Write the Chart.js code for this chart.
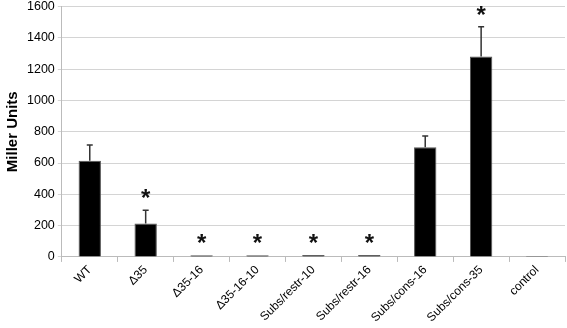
<!DOCTYPE html>
<html>
<head>
<meta charset="utf-8">
<script src="https://cdn.jsdelivr.net/npm/chart.js@4/dist/chart.umd.min.js"></script>
<style>
  html, body { margin: 0; padding: 0; background: #fff; overflow: hidden; }
  #wrap { width: 567px; height: 332px; margin-top: -4px; }
</style>
</head>
<body>
<div id="wrap"><canvas id="chart"></canvas></div>
<script>
const categories = ['WT', 'Δ35', 'Δ35-16', 'Δ35-16-10', 'Subs/restr-10', 'Subs/restr-16', 'Subs/cons-16', 'Subs/cons-35', 'control'];
const millerUnits = [615, 213, 10, 10, 12, 12, 700, 1280, 6];
const errorTop = [715, 299, 10, 10, 12, 12, 772, 1470, 6];
const significant = [false, true, true, true, true, true, false, true, false];
const yTicks = [0, 200, 400, 600, 800, 1000, 1200, 1400, 1600];

// error bars + asterisks, drawn from the data through the scales
const errorBarPlugin = {
    id: 'errorBars',
    afterDatasetsDraw(chart) {
        const ctx = chart.ctx;
        const x = chart.scales.x;
        const y = chart.scales.y;
        ctx.save();
        categories.forEach((cat, i) => {
            const cx = x.getPixelForValue(i);
            const yTop = y.getPixelForValue(millerUnits[i]);
            const yErr = y.getPixelForValue(errorTop[i]);
            if (errorTop[i] > millerUnits[i]) {
                ctx.strokeStyle = '#333';
                ctx.lineWidth = 1.5;
                ctx.beginPath();
                ctx.moveTo(cx, yTop);
                ctx.lineTo(cx, yErr);
                ctx.moveTo(cx - 3, yErr);
                ctx.lineTo(cx + 3, yErr);
                ctx.stroke();
            }
            if (significant[i]) {
                ctx.fillStyle = '#111';
                ctx.font = 'bold 24px "Liberation Sans", Arial, sans-serif';
                ctx.textAlign = 'center';
                ctx.textBaseline = 'alphabetic';
                ctx.fillText('*', cx, yErr - 4);
            }
        });
        ctx.restore();
    }
};

new Chart(document.getElementById('chart').getContext('2d'), {
    type: 'bar',
    data: {
        labels: categories,
        datasets: [{
            label: 'Miller Units',
            data: millerUnits,
            backgroundColor: '#000',
            borderColor: '#555',
            borderWidth: 1,
            categoryPercentage: 1,
            barPercentage: 0.4
        }]
    },
    options: {
        responsive: true,
        maintainAspectRatio: false,
        animation: false,
        layout: { padding: { top: 0, right: 2, left: 4, bottom: 2 } },
        plugins: {
            legend: { display: false },
            tooltip: { enabled: false }
        },
        scales: {
            x: {
                grid: {
                    offset: true,
                    drawOnChartArea: false,
                    drawTicks: true,
                    tickLength: 5,
                    color: '#bbb'
                },
                border: { color: '#bbb' },
                ticks: {
                    minRotation: 45,
                    maxRotation: 45,
                    padding: 1,
                    color: '#000',
                    font: { family: '"Liberation Sans", Arial, sans-serif', size: 12 }
                }
            },
            y: {
                min: 0,
                max: 1600,
                afterBuildTicks: axis => { axis.ticks = yTicks.map(v => ({ value: v })); },
                grid: { color: '#d4d4d4', tickLength: 4 },
                border: { color: '#bbb' },
                ticks: {
                    color: '#000',
                    padding: 3,
                    callback: v => String(v),
                    font: { family: '"Liberation Sans", Arial, sans-serif', size: 12.5 }
                },
                title: {
                    display: true,
                    text: 'Miller Units',
                    color: '#000',
                    padding: { top: 0, bottom: 2 },
                    font: { family: '"Liberation Sans", Arial, sans-serif', size: 15, weight: 'bold' }
                }
            }
        }
    },
    plugins: [errorBarPlugin]
});
</script>
</body>
</html>
